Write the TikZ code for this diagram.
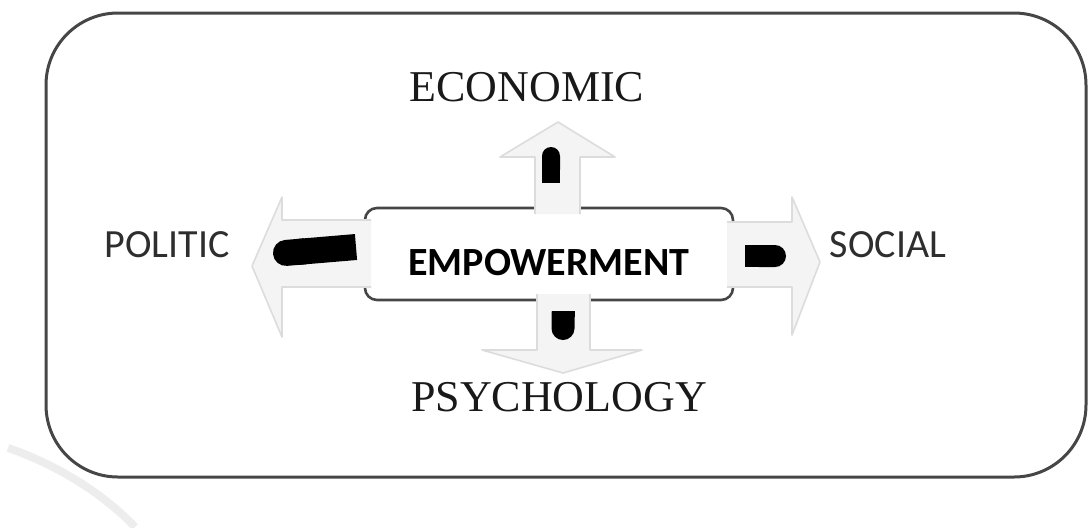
\documentclass[tikz,border=0pt]{standalone}
\usepackage{fontspec}
\setmainfont{Liberation Serif}
\newfontfamily\calibri{Carlito}
\usetikzlibrary{arrows.meta,calc,positioning}
\definecolor{framegray}{HTML}{464646}
\definecolor{arrowfill}{HTML}{F4F4F4}
\definecolor{arrowedge}{HTML}{DCDCDC}
\definecolor{labelgray}{HTML}{2E2E2E}
\tikzset{
  outerframe/.style={draw=framegray,line width=1.5pt,rounded corners=36pt},
  centerbox/.style={draw=framegray,line width=1.3pt,rounded corners=6pt,fill=white,
    minimum width=184pt,minimum height=46pt,text height=21pt,text depth=0pt,
    font=\calibri\bfseries\fontsize{20}{24}\selectfont},
  seriflabel/.style={font=\fontsize{22}{26}\selectfont,text=black!90,inner sep=0pt},
  sanslabel/.style={font=\calibri\fontsize{20}{24}\selectfont,text=labelgray,inner sep=0pt},
  blockarrow/.style={fill=arrowfill,draw=arrowedge,line width=0.8pt,line join=round},
  bar/.style={black,line cap=butt,-{Round Cap[]}}
}

\begin{document}
\begin{tikzpicture}[x=0.5pt,y=-0.5pt]
\useasboundingbox (0,0) rectangle (1089,527);
% faint arc in the lower left corner
\draw[gray!14,line width=4pt] (8,448) .. controls (50,462) and (100,490) .. (135,527);
\draw[outerframe] (46,13) rectangle (1086,477);

\node[centerbox] (empower) at (549,254) {EMPOWERMENT};
\node[seriflabel] (economic) at (527,87) {ECONOMIC};
\node[seriflabel] (psychology) at (559,397) {PSYCHOLOGY};
\node[sanslabel] (politic) at (167,245) {POLITIC};
\node[sanslabel] (social) at (888,245) {SOCIAL};

% light block arrows leaving the box
\draw[blockarrow] (535,214) -- (535,157) -- (500,157) -- (558,122) -- (615,157) -- (580,157) -- (580,214);
\draw[blockarrow] (537,294) -- (537,350) -- (482,350) -- (563,373) -- (642,350) -- (590,350) -- (590,294);
\draw[blockarrow] (371,220) -- (282,220) -- (282,197) -- (252,266) -- (282,337) -- (282,287) -- (371,287);
\draw[blockarrow] (727,222) -- (792,222) -- (792,197) -- (820,262) -- (792,335) -- (792,287) -- (727,287);

% black bars inside the arrows, square at the box, round at the tip
\coordinate (econ-a) at (551,183);  \coordinate (econ-b) at (551,147);
\coordinate (psy-a) at (563,311);   \coordinate (psy-b) at (563,340);
\coordinate (pol-a) at (356,247);   \coordinate (pol-b) at (273,254);
\coordinate (soc-a) at (745,256);   \coordinate (soc-b) at (786,256);
\draw[bar,line width=9pt] (econ-a) -- (econ-b);
\draw[bar,line width=11.5pt] (psy-a) -- (psy-b);
\draw[bar,line width=13pt] (pol-a) -- (pol-b);
\draw[bar,line width=11pt] (soc-a) -- (soc-b);
\end{tikzpicture}
\end{document}
